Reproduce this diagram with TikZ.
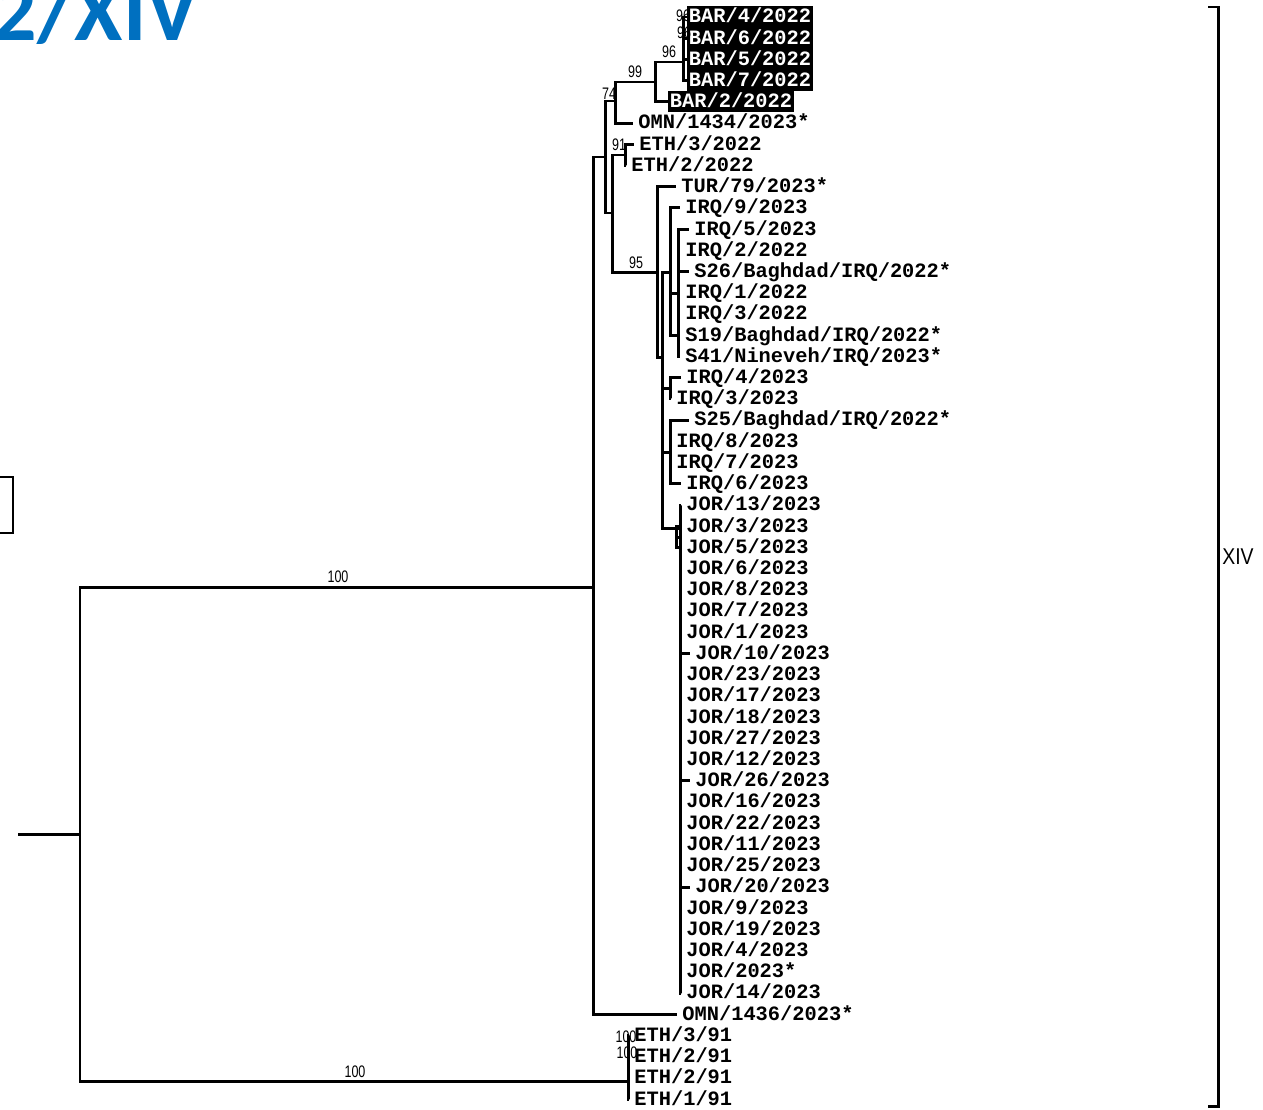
\documentclass[tikz,border=0pt]{standalone}
\usepackage{fontspec}
\usetikzlibrary{positioning}
\newfontfamily\leaffont{Liberation Mono}
\newfontfamily\bootfont[FakeStretch=0.75]{Liberation Sans}
\newfontfamily\cladefont[FakeStretch=0.85]{Liberation Sans}
\newfontfamily\titlefont{Carlito}
\definecolor{titleblue}{RGB}{0,112,192}

\begin{document}
\begin{tikzpicture}[
    x=0.02cm, y=-0.02cm,
    branch/.style={line width=1.7pt},
    leaf/.style={anchor=west, inner xsep=0.1cm, inner ysep=0pt,
                 text height=7.6pt, text depth=1pt,
                 font=\leaffont\bfseries\fontsize{11.6}{13}\selectfont},
    bar/.style={leaf, fill=black, text=white, inner xsep=0.03cm, minimum height=0.424cm},
    boot/.style={font=\bootfont\fontsize{9.5}{10}\selectfont, inner sep=0pt},
    clade/.style={font=\cladefont\fontsize{13}{14}\selectfont, inner sep=0pt, anchor=west},
    title/.style={font=\titlefont\bfseries\fontsize{50}{60}\selectfont, text=titleblue, inner sep=0pt},
]
    \useasboundingbox (0,0) rectangle (1263,1109);
    \clip (0,0) rectangle (1263,1109);

    %==================== title and cut-off box ====================
    \node[title, anchor=base east] (title) at (199,40) {2/XIV};
    \draw[line width=1.5pt] (-20,477) rectangle (13,533);

    %==================== leaves ====================
    \foreach \tx/\st/\lab [count=\i] in {
        687/bar/{BAR/4/2022}, 687/bar/{BAR/6/2022}, 687/bar/{BAR/5/2022},
        687/bar/{BAR/7/2022}, 668/bar/{BAR/2/2022}, 633/leaf/{OMN/1434/2023*},
        634/leaf/{ETH/3/2022}, 626/leaf/{ETH/2/2022}, 676/leaf/{TUR/79/2023*},
        680/leaf/{IRQ/9/2023}, 689/leaf/{IRQ/5/2023}, 680/leaf/{IRQ/2/2022},
        689/leaf/{S26/Baghdad/IRQ/2022*}, 680/leaf/{IRQ/1/2022}, 680/leaf/{IRQ/3/2022},
        680/leaf/{S19/Baghdad/IRQ/2022*}, 680/leaf/{S41/Nineveh/IRQ/2023*},
        681/leaf/{IRQ/4/2023}, 671/leaf/{IRQ/3/2023}, 689/leaf/{S25/Baghdad/IRQ/2022*},
        671/leaf/{IRQ/8/2023}, 671/leaf/{IRQ/7/2023}, 681/leaf/{IRQ/6/2023},
        681/leaf/{JOR/13/2023}, 681/leaf/{JOR/3/2023}, 681/leaf/{JOR/5/2023},
        681/leaf/{JOR/6/2023}, 681/leaf/{JOR/8/2023}, 681/leaf/{JOR/7/2023},
        681/leaf/{JOR/1/2023}, 690/leaf/{JOR/10/2023}, 681/leaf/{JOR/23/2023},
        681/leaf/{JOR/17/2023}, 681/leaf/{JOR/18/2023}, 681/leaf/{JOR/27/2023},
        681/leaf/{JOR/12/2023}, 690/leaf/{JOR/26/2023}, 681/leaf/{JOR/16/2023},
        681/leaf/{JOR/22/2023}, 681/leaf/{JOR/11/2023}, 681/leaf/{JOR/25/2023},
        690/leaf/{JOR/20/2023}, 681/leaf/{JOR/9/2023}, 681/leaf/{JOR/19/2023},
        681/leaf/{JOR/4/2023}, 681/leaf/{JOR/2023*}, 681/leaf/{JOR/14/2023},
        677/leaf/{OMN/1436/2023*}, 629/leaf/{ETH/3/91}, 629/leaf/{ETH/2/91},
        629/leaf/{ETH/2/91}, 629/leaf/{ETH/1/91}}
        \node[\st] (l\i) at (\tx, {17+(\i-1)*21.22}) {\lab};

    %==================== inner nodes ====================
    \coordinate (n96a) at (683,62);
    \coordinate (n96b) at (655,82);
    \coordinate (n99)  at (615,101);
    \coordinate (n74)  at (605,157);
    \coordinate (nETH) at (625,155);
    \coordinate (nB)   at (612,213);
    \coordinate (n95)  at (657,272);
    \coordinate (nC)   at (662,357);
    \coordinate (nD)   at (670,272);
    \coordinate (nE)   at (678,293);
    \coordinate (n4)   at (670,388);
    \coordinate (n25)  at (670,452);
    \coordinate (nJ)   at (680,528);
    \coordinate (nJ2)  at (676,537);
    \coordinate (nTop) at (593,587);
    \coordinate (nE91) at (628,1081);
    \coordinate (nRoot) at (80,834);
    \coordinate (stub) at (18,834);

    %==================== branches ====================
    \foreach \c in {l1.west,l2.west,l3.west,l4.west} \draw[branch] (n96a) |- (\c);
    \foreach \c in {n96a,l5.west} \draw[branch] (n96b) |- (\c);
    \foreach \c in {n96b,l6.west} \draw[branch] (n99) |- (\c);
    \foreach \c in {n99,nB} \draw[branch] (n74) |- (\c);
    \foreach \c in {nETH,n95} \draw[branch] (nB) |- (\c);
    \foreach \c in {l7.west,l8.west} \draw[branch] (nETH) |- (\c);
    \foreach \c in {l9.west,nC} \draw[branch] (n95) |- (\c);
    \foreach \c in {nD,n4,n25,nJ} \draw[branch] (nC) |- (\c);
    \foreach \c in {l10.west,nE,l16.west} \draw[branch] (nD) |- (\c);
    \foreach \c in {l11,l12,l13,l14,l15,l17} \draw[branch] (nE) |- (\c.west);
    \foreach \c in {l18,l19} \draw[branch] (n4) |- (\c.west);
    \foreach \c in {l20,l21,l22,l23} \draw[branch] (n25) |- (\c.west);
    \foreach \k in {24,27,28,...,47} \draw[branch] (nJ) |- (l\k.west);
    \draw[branch] (nJ) |- (nJ2);
    \foreach \c in {l25,l26} \draw[branch] (nJ2) |- (\c.west);
    \foreach \c in {n74,l48.west} \draw[branch] (nTop) |- (\c);
    \foreach \c in {l49,l50,l51,l52} \draw[branch] (nE91) |- (\c.west);
    \foreach \c in {nTop,nE91} \draw[branch] (nRoot) |- (\c);
    \draw[branch] (stub) -- (nRoot);

    % support values
    \node[boot] (s1) at (683,16) {96};
    \node[boot] (s2) at (684,33) {96};
    \node[boot] (s3) at (669,52) {96};
    \node[boot] (s4) at (635,72) {99};
    \node[boot] (s5) at (609,94) {74};
    \node[boot] (s6) at (619,145) {91};
    \node[boot] (s7) at (636,263) {95};
    \node[boot] (s8) at (338,577) {100};
    \node[boot] (s9) at (355,1072) {100};
    \node[boot] (s10) at (626,1037) {100};
    \node[boot] (s11) at (627,1053) {100};

    %==================== clade bracket ====================
    \coordinate (brtop) at (1218,7);
    \coordinate (brbot) at (1218,1106);
    \coordinate (brmid) at (1218,557);
    \draw[branch] ([xshift=-0.2cm]brtop) -- (brtop) -- (brbot) -- ([xshift=-0.2cm]brbot);
    \node[clade, right=0.08cm of brmid] (xiv) {XIV};

\end{tikzpicture}
\end{document}
